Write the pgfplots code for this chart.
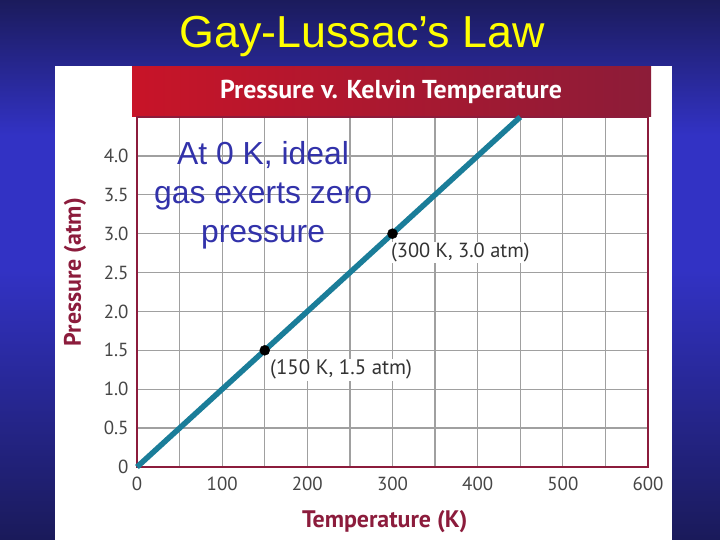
\documentclass[border=0pt]{standalone}
\usepackage{pgfplots}
\pgfplotsset{compat=1.18}
\usepackage{fontspec}
\setmainfont{Liberation Sans}
\newfontfamily\ptsans{PT Sans}
\definecolor{bgtop}{RGB}{27,27,92}
\definecolor{bgmid}{RGB}{50,50,196}
\definecolor{bgbot}{RGB}{26,26,90}
\definecolor{maroon}{RGB}{140,28,60}
\definecolor{redL}{RGB}{200,20,40}
\definecolor{redR}{RGB}{140,28,56}
\definecolor{teal}{RGB}{26,125,153}
\definecolor{annot}{RGB}{50,50,170}
\definecolor{ticktext}{RGB}{70,70,70}
\begin{document}
\begin{tikzpicture}[x=1bp,y=1bp]
\useasboundingbox (0,0) rectangle (720,540);
\shade[top color=bgtop, bottom color=bgmid, middle color=bgmid] (0,270) rectangle (720,540);
\shade[top color=bgmid, bottom color=bgbot] (0,0) rectangle (720,270);
\fill[white] (55,0) rectangle (672,474);
\shade[left color=redL, right color=redR] (132,423) rectangle (651,473);
\node[text=white, font=\ptsans\bfseries\fontsize{26}{29}\selectfont] at (391,448) {Pressure v. Kelvin Temperature};
\node[text={rgb,255:red,255;green,255;blue,0}, font=\fontsize{45}{50}\selectfont] at (362,503) {Gay-Lussac’s Law};
\begin{axis}[
  at={(137bp,73bp)}, anchor=south west,
  scale only axis, width=511bp, height=350bp,
  xmin=0, xmax=600, ymin=0, ymax=4.5,
  xtick={0,100,...,600}, minor xtick={50,150,...,550},
  ytick={0,0.5,...,4}, yticklabels={0,0.5,1.0,1.5,2.0,2.5,3.0,3.5,4.0},
  xticklabels={0,100,200,300,400,500,600},
  grid=both,
  major grid style={draw={rgb,255:red,160;green,160;blue,160}, line width=1.3bp},
  minor grid style={draw={rgb,255:red,160;green,160;blue,160}, line width=1.3bp},
  major tick length=0pt, minor tick length=0pt,
  axis line style={draw=maroon, line width=2.5bp},
  ticklabel style={text=ticktext, font=\ptsans\fontsize{19}{22}\selectfont},
  xticklabel style={yshift=-7bp},
  yticklabel style={xshift=-5bp},
  xlabel={Temperature (K)}, ylabel={Pressure (atm)},
  label style={text=maroon, font=\ptsans\bfseries\fontsize{24}{28}\selectfont},
  xlabel style={at={(axis description cs:0.485,0)}, anchor=center, yshift=-55bp},
  ylabel style={at={(axis description cs:0,0.557)}, anchor=center, yshift=62bp},
  clip=false,
]
\addplot[teal, line width=5.5bp] coordinates {(0,0) (450,4.5)};
\addplot[only marks, mark=*, mark size=5bp, black] coordinates {(150,1.5) (300,3.0)};
\node[anchor=north west, fill=white, inner sep=1bp, text={rgb,255:red,51;green,51;blue,51}, font=\ptsans\fontsize{21}{24}\selectfont] at (axis cs:155,1.39) {(150 K, 1.5 atm)};
\node[anchor=north west, fill=white, inner sep=1bp, text={rgb,255:red,51;green,51;blue,51}, font=\ptsans\fontsize{20.5}{23}\selectfont] at (axis cs:297,2.89) {(300 K, 3.0 atm)};
\node[align=center, text=annot, font=\fontsize{32}{39}\selectfont] at (axis cs:148,3.49) {At 0 K, ideal\\gas exerts zero\\pressure};
\end{axis}
\end{tikzpicture}
\end{document}
